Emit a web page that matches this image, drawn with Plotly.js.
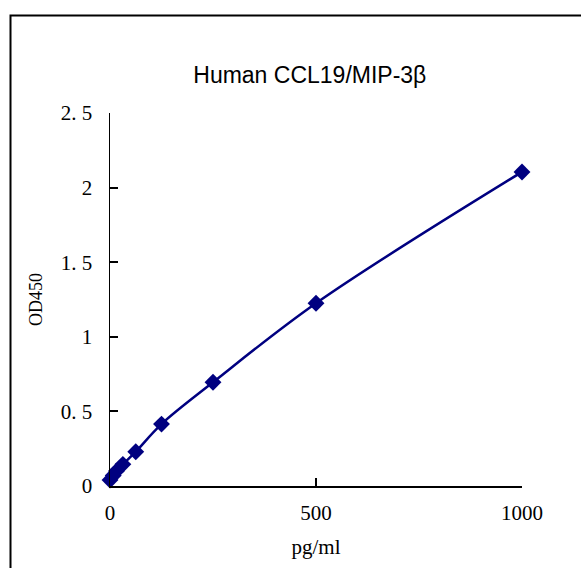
<!DOCTYPE html>
<html>
<head>
<meta charset="utf-8">
<script src="https://cdn.plot.ly/plotly-3.0.1.min.js"></script>
<style>html,body{margin:0;padding:0;background:#fff;}#chart{width:581px;height:568px;}</style>
</head>
<body>
<div id="chart"></div>
<script>
const concentration = [0, 7.8, 15.6, 31.25, 62.5, 125, 250, 500, 1000];
const od450 = [0.04, 0.07, 0.10, 0.145, 0.23, 0.415, 0.695, 1.225, 2.105];
const yTickVals = [0, 0.5, 1, 1.5, 2, 2.5];
const yTickText = ["0", "0. 5", "1", "1. 5", "2", "2. 5"];
const xTickVals = [0, 500, 1000];
const xTickText = ["0", "500", "1000"];

const serif = "Liberation Serif, Times New Roman, serif";
const xRange = [0, 1000];
const yRange = [0, 2.5];
const trace = {
  x: concentration, y: od450, type: "scatter", mode: "lines+markers",
  line: {color: "#000080", width: 2.5, shape: "spline", smoothing: 1},
  marker: {symbol: "diamond", size: 13, color: "#000080"},
  cliponaxis: false, hoverinfo: "skip"
};
// empty trace so the inside-tick axes get a subplot
const tickHolder = {x: [], y: [], type: "scatter", mode: "markers", xaxis: "x2", yaxis: "y2", hoverinfo: "skip"};
const common = {showgrid: false, zeroline: false, fixedrange: true};
const layout = {
  width: 581, height: 568,
  margin: {l: 110, r: 59, t: 113, b: 82},
  paper_bgcolor: "#fff", plot_bgcolor: "rgba(0,0,0,0)",
  showlegend: false,
  title: {text: "Human CCL19/MIP-3β", font: {family: "Liberation Sans, Arial, sans-serif", size: 23, color: "#000"}, x: 0.485, xref: "paper", xanchor: "center", y: 1 - 75/568, yanchor: "middle"},
  xaxis: Object.assign({range: xRange, tickmode: "array", tickvals: xTickVals, ticktext: xTickText,
    ticks: "outside", ticklen: 7, tickcolor: "rgba(0,0,0,0)",
    showline: true, linecolor: "#000", linewidth: 1.5,
    tickfont: {family: serif, size: 21, color: "#000"},
    title: {text: "pg/ml", font: {family: serif, size: 21, color: "#000"}, standoff: 15}}, common),
  yaxis: Object.assign({range: yRange, tickmode: "array", tickvals: yTickVals, ticktext: yTickText,
    ticks: "outside", ticklen: 12, tickcolor: "rgba(0,0,0,0)",
    showline: true, linecolor: "#000", linewidth: 1.5,
    tickfont: {family: serif, size: 21, color: "#000"},
    title: {text: "OD450", font: {family: serif, size: 18, color: "#000"}, standoff: 13}}, common),
  xaxis2: Object.assign({range: xRange, overlaying: "x", anchor: "y2", side: "bottom", tickmode: "array", tickvals: xTickVals,
    ticks: "inside", ticklen: 8, tickwidth: 2, tickcolor: "#000", showticklabels: false, showline: false}, common),
  yaxis2: Object.assign({range: yRange, overlaying: "y", anchor: "x2", side: "left", tickmode: "array", tickvals: yTickVals,
    ticks: "inside", ticklen: 8, tickwidth: 2, tickcolor: "#000", showticklabels: false, showline: false}, common),
  shapes: [{type: "rect", xref: "paper", yref: "paper", x0: (10.5-110)/412, x1: 1.3, y0: -0.3, y1: (486-15.5)/373,
    line: {color: "#000", width: 2}, fillcolor: "rgba(0,0,0,0)", layer: "below"}]
};
Plotly.newPlot("chart", [trace, tickHolder], layout, {staticPlot: true, displayModeBar: false});
</script>
</body>
</html>
